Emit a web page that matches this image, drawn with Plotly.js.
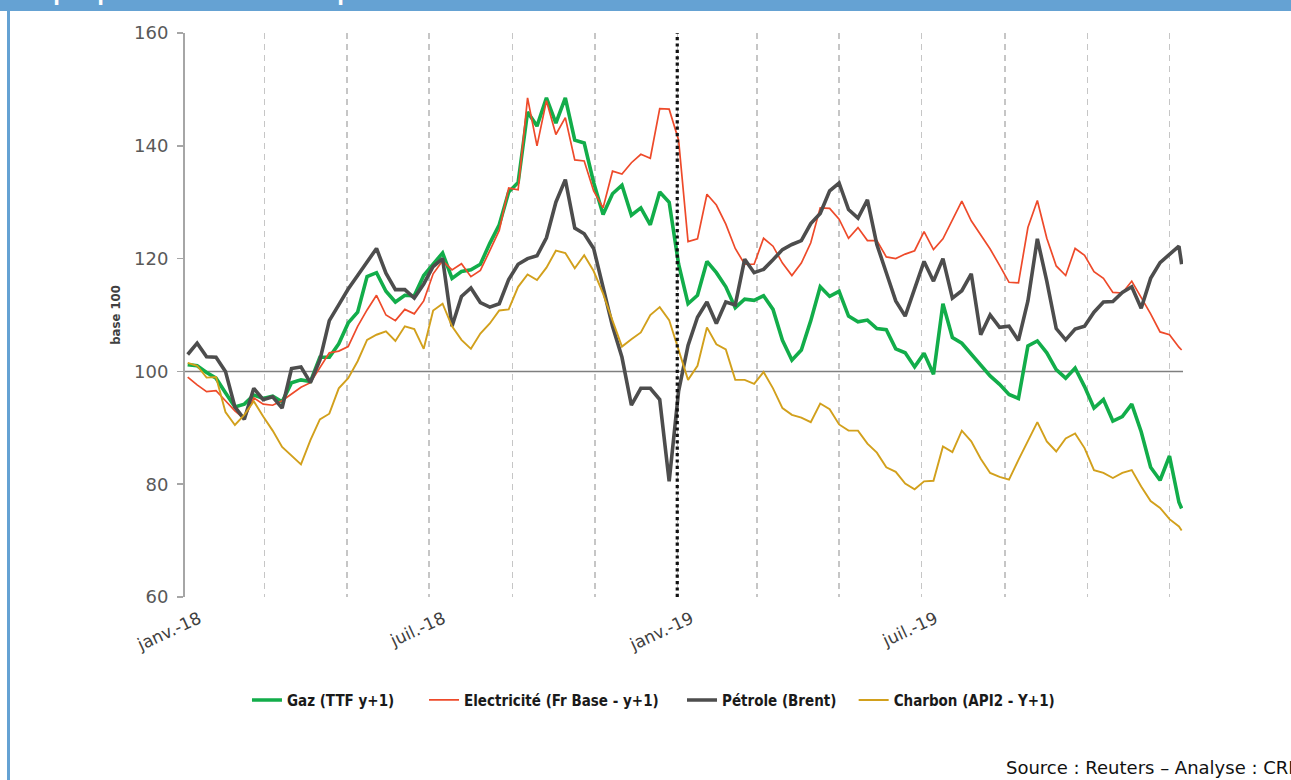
<!DOCTYPE html>
<html>
<head>
<meta charset="utf-8">
<script src="https://cdn.plot.ly/plotly-3.0.1.min.js"></script>
<style>
  html, body { margin:0; padding:0; background:#ffffff; }
  #wrap { position:relative; width:1291px; height:780px; overflow:hidden; background:#ffffff; }
  #chart { position:absolute; left:0; top:0; width:1291px; height:780px; }
  #topbar { position:absolute; left:0; top:0; width:1291px; height:11px; background:#65a2d3; overflow:hidden; z-index:5; }
  #topbar span { position:absolute; left:12px; top:-20px; font-family:"Liberation Sans", Arial, sans-serif; font-weight:bold; font-size:24px; line-height:24px; color:#ffffff; white-space:nowrap; }
  #leftbar { position:absolute; left:7px; top:0; width:3px; height:780px; background:#65a2d3; z-index:5; }
</style>
</head>
<body>
<div id="wrap">
  <div id="chart"></div>
  <div id="topbar"><span>Graphique 8 : Evolution des prix des commodités</span></div>
  <div id="leftbar"></div>
</div>
<script>
// Weekly observation dates
const dates = [
 '2018-01-03','2018-01-10','2018-01-17','2018-01-24','2018-01-31','2018-02-07','2018-02-14','2018-02-21','2018-02-28','2018-03-07',
 '2018-03-14','2018-03-21','2018-03-28','2018-04-04','2018-04-11','2018-04-18','2018-04-25','2018-05-02','2018-05-09','2018-05-16',
 '2018-05-23','2018-05-30','2018-06-06','2018-06-13','2018-06-20','2018-06-27','2018-07-04','2018-07-11','2018-07-18','2018-07-25',
 '2018-08-01','2018-08-08','2018-08-15','2018-08-22','2018-08-29','2018-09-05','2018-09-12','2018-09-19','2018-09-26','2018-10-03',
 '2018-10-10','2018-10-17','2018-10-24','2018-10-31','2018-11-07','2018-11-14','2018-11-21','2018-11-28','2018-12-05','2018-12-12',
 '2018-12-19','2018-12-26','2019-01-02','2019-01-09','2019-01-16','2019-01-23','2019-01-30','2019-02-06','2019-02-13','2019-02-20',
 '2019-02-27','2019-03-06','2019-03-13','2019-03-20','2019-03-27','2019-04-03','2019-04-10','2019-04-17','2019-04-24','2019-05-01',
 '2019-05-08','2019-05-15','2019-05-22','2019-05-29','2019-06-05','2019-06-12','2019-06-19','2019-06-26','2019-07-03','2019-07-10',
 '2019-07-17','2019-07-24','2019-07-31','2019-08-07','2019-08-14','2019-08-21','2019-08-28','2019-09-04','2019-09-11','2019-09-18',
 '2019-09-25','2019-10-02','2019-10-09','2019-10-16','2019-10-23','2019-10-30','2019-11-06','2019-11-13','2019-11-20','2019-11-27',
 '2019-12-04','2019-12-11','2019-12-18','2019-12-25','2020-01-01','2020-01-08','2020-01-10'
];

// Gaz (TTF y+1)
const gaz = [
 101.2, 101, 99.8, 98.8, 96.2, 93.7, 94.2, 95.8, 95.2, 95.6,
 94.6, 98, 98.5, 98.2, 102.5, 102.5, 104.9, 108.6, 110.5, 116.8,
 117.5, 114.2, 112.3, 113.5, 113.4, 117, 119, 121, 116.5, 117.7,
 118, 119, 122.7, 126, 131.8, 133.5, 146, 143.5, 148.5, 144,
 148.5, 141, 140.5, 133.5, 127.8, 131.5, 133, 127.7, 129, 126,
 131.8, 130, 119, 112, 113.5, 119.5, 117.5, 115, 111.3, 112.8,
 112.6, 113.4, 111, 105.5, 102, 103.8, 109, 115, 113.3, 114.2,
 109.8, 108.8, 109.1, 107.6, 107.4, 104, 103.3, 100.8, 103.2, 99.5,
 112, 106, 105, 103, 101.2, 99.2, 97.7, 95.9, 95.2, 104.5,
 105.4, 103.3, 100.3, 98.8, 100.6, 97.3, 93.5, 95, 91.2, 92,
 94.2, 89.3, 83, 80.7, 85, 76.8, 75.7
];

// Electricité (Fr Base - y+1)
const electricite = [
 99, 97.6, 96.4, 96.6, 94.8, 93, 91.6, 95.3, 94.2, 94,
 94.8, 96, 97.2, 98, 100.7, 103.3, 103.6, 104.4, 108, 110.9,
 113.5, 110, 109, 111, 110.2, 112.5, 117.3, 119.6, 118, 119.1,
 116.8, 117.9, 121.4, 125, 132.5, 132.2, 148.5, 140, 148, 142,
 145, 137.5, 137.3, 132, 129, 135.5, 135, 137, 138.5, 137.8,
 146.6, 146.5, 141, 123, 123.5, 131.4, 129.5, 126.1, 121.8, 119,
 119, 123.6, 122.2, 119.2, 117, 119.2, 122.8, 129, 128.9, 127,
 123.6, 125.5, 123.2, 123.2, 120.3, 120, 120.8, 121.4, 124.8, 121.6,
 123.5, 126.8, 130.2, 126.7, 124.2, 121.7, 118.8, 115.8, 115.7, 125.5,
 130.3, 123.6, 118.7, 117, 121.8, 120.6, 117.7, 116.5, 114, 113.9,
 116, 113.1, 110.2, 107, 106.5, 104.3, 103.8
];

// Pétrole (Brent)
const petrole = [
 103, 105, 102.6, 102.5, 100, 93.7, 91.5, 97, 95, 95.5,
 93.5, 100.5, 100.8, 98, 102, 109, 111.8, 114.6, 117, 119.5,
 121.8, 117.4, 114.5, 114.5, 113, 115.5, 118.6, 120, 108, 113.3,
 114.8, 112.2, 111.4, 112, 116.3, 119, 120, 120.5, 123.7, 130,
 134, 125.4, 124.4, 121.8, 114.6, 108, 102.5, 94, 97, 97,
 95, 80.5, 96.5, 104.6, 109.6, 112.3, 108.5, 112.3, 111.8, 119.9,
 117.5, 118.1, 119.8, 121.6, 122.5, 123.2, 126.2, 128, 132, 133.4,
 128.7, 127.2, 130.4, 122.5, 117.5, 112.5, 109.8, 114.5, 119.5, 116,
 120, 113, 114.3, 117.3, 106.5, 110, 107.8, 108, 105.5, 112.5,
 123.5, 116, 107.6, 105.6, 107.5, 108, 110.5, 112.3, 112.4, 114,
 115, 111.2, 116.5, 119.3, 120.8, 122.2, 119
];

// Charbon (API2 - Y+1)
const charbon = [
 101.5, 101, 98.9, 99, 92.8, 90.5, 92.3, 94.7, 92, 89.5,
 86.6, 85, 83.5, 87.8, 91.5, 92.5, 97, 98.8, 101.8, 105.6,
 106.5, 107.1, 105.4, 108, 107.5, 104, 110.8, 112, 108, 105.6,
 104, 106.7, 108.5, 110.8, 111, 115, 117.2, 116.2, 118.4, 121.4,
 121, 118.3, 120.6, 117.8, 113.8, 109, 104.4, 105.7, 106.9, 110,
 111.4, 109.1, 104, 98.5, 101, 107.8, 104.8, 103.9, 98.5, 98.5,
 97.8, 99.9, 97, 93.5, 92.3, 91.8, 91, 94.3, 93.3, 90.6,
 89.5, 89.5, 87.2, 85.6, 83, 82.2, 80.1, 79.1, 80.5, 80.6,
 86.7, 85.7, 89.5, 87.6, 84.5, 82, 81.3, 80.8, 84.3, 87.8,
 91, 87.6, 85.8, 88.1, 89, 86.4, 82.5, 82, 81.1, 82,
 82.5, 79.6, 77, 75.8, 73.8, 72.5, 71.8
];

const seriesNames = ['Gaz (TTF y+1)', 'Electricité (Fr Base - y+1)', 'Pétrole (Brent)', 'Charbon (API2 - Y+1)'];
const tickDates = ['2018-01-01', '2018-07-01', '2019-01-01', '2019-07-01'];
const tickLabels = ['janv.-18', 'juil.-18', 'janv.-19', 'juil.-19'];
const xRange = ['2018-01-01', '2020-01-11'];
const yRange = [60, 160];
const baseLevel = 100;
const markerDate = '2019-01-01';
const yTitle = 'base 100';
const sourceText = 'Source : Reuters \u2013 Analyse : CRE';

const legendIds = ['legend', 'legend2', 'legend3', 'legend4'];
const legendX = [0.0621, 0.2395, 0.498, 0.670];

const traces = [
  {x: dates, y: gaz, name: seriesNames[0], legend: legendIds[0], type: 'scatter', mode: 'lines', line: {color: '#12ad4a', width: 3.6}},
  {x: dates, y: electricite, name: seriesNames[1], legend: legendIds[1], type: 'scatter', mode: 'lines', line: {color: '#ee4a2a', width: 1.7}},
  {x: dates, y: petrole, name: seriesNames[2], legend: legendIds[2], type: 'scatter', mode: 'lines', line: {color: '#4d4d4d', width: 3.6}},
  {x: dates, y: charbon, name: seriesNames[3], legend: legendIds[3], type: 'scatter', mode: 'lines', line: {color: '#d2a01c', width: 1.9}}
];

const gridStyle = {gridcolor: '#c6c6c6', gridwidth: 1.5, griddash: '6px,5px'};
const legendFont = {family: 'DejaVu Sans Condensed, Liberation Sans Narrow, sans-serif', size: 15, color: '#1a1a1a', weight: 'bold'};

const layout = {
  width: 1291, height: 780,
  margin: {l: 185, r: 108, t: 33, b: 183},
  paper_bgcolor: 'rgba(0,0,0,0)',
  plot_bgcolor: 'rgba(0,0,0,0)',
  showlegend: true,
  xaxis: Object.assign({
    type: 'date', range: xRange,
    tickmode: 'array', tickvals: tickDates, ticktext: tickLabels,
    tickangle: -25, ticklabelstandoff: 8, ticklabelshift: 14,
    tickfont: {family: 'DejaVu Sans, sans-serif', size: 17, color: '#404040'},
    showgrid: true, showline: false, zeroline: false, ticks: '',
    minor: Object.assign({tick0: '2018-01-01', dtick: 'M2', showgrid: true, ticks: ''}, gridStyle),
    fixedrange: true
  }, gridStyle),
  yaxis: {
    range: yRange, tick0: 60, dtick: 20,
    ticks: 'outside', ticklen: 6, tickwidth: 1.5, tickcolor: '#a6a6a6',
    showline: true, linecolor: '#a6a6a6', linewidth: 2,
    showgrid: false, zeroline: false, ticklabelstandoff: 5,
    tickfont: {family: 'DejaVu Sans, sans-serif', size: 18, color: '#595959'},
    title: {text: yTitle, font: {family: 'DejaVu Sans Condensed, sans-serif', size: 13, color: '#404040', weight: 'bold'}, standoff: 10},
    fixedrange: true
  },
  shapes: [
    {type: 'line', xref: 'paper', x0: 0, x1: 1, yref: 'y', y0: baseLevel, y1: baseLevel,
     line: {color: '#7f7f7f', width: 1.5}, layer: 'below'},
    {type: 'line', xref: 'x', x0: markerDate, x1: markerDate, yref: 'paper', y0: 0, y1: 1,
     line: {color: '#111111', width: 3.2, dash: 'dot'}, layer: 'above'}
  ],
  annotations: [
    {text: sourceText, xref: 'paper', yref: 'paper', x: 0.8206, y: -0.303, xanchor: 'left', yanchor: 'middle',
     showarrow: false, font: {family: 'DejaVu Sans, sans-serif', size: 18, color: '#111111'}}
  ]
};

legendIds.forEach(function (id, i) {
  layout[id] = {
    orientation: 'h', x: legendX[i], xanchor: 'left', y: -0.183, yanchor: 'middle',
    font: legendFont, itemwidth: 30, bgcolor: 'rgba(0,0,0,0)'
  };
});

Plotly.newPlot('chart', traces, layout, {staticPlot: true, displayModeBar: false});
</script>
</body>
</html>
